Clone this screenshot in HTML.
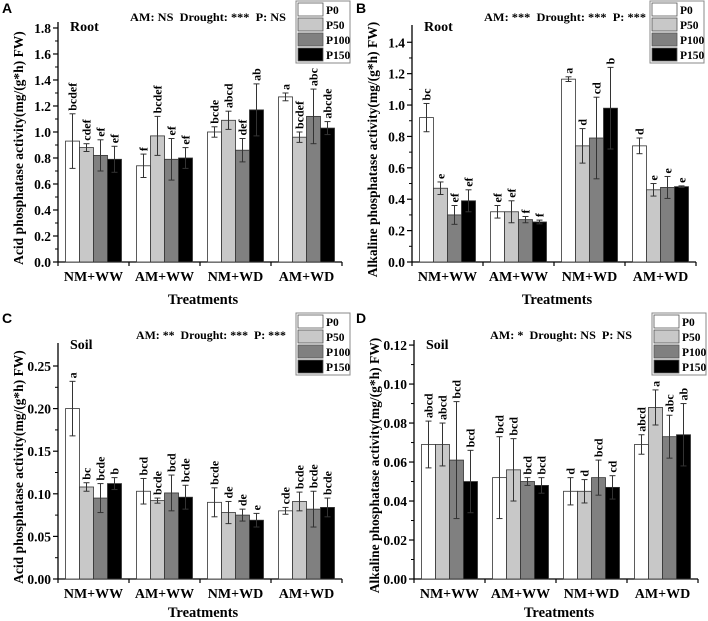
<!DOCTYPE html>
<html><head><meta charset="utf-8"><style>
body{margin:0;background:#fff}
svg{display:block;font-family:"Liberation Serif",serif;font-weight:bold}
</style></head><body>
<svg id="fig" width="708" height="621"></svg>
<script>
const categories=["NM+WW","AM+WW","NM+WD","AM+WD"];
const seriesNames=["P0","P50","P100","P150"];
const aVals=[[0.93,0.88,0.82,0.79],[0.74,0.97,0.79,0.80],[1.00,1.09,0.86,1.17],[1.27,0.96,1.12,1.03]];
const aErr=[[0.21,0.03,0.12,0.10],[0.09,0.15,0.16,0.08],[0.04,0.07,0.09,0.20],[0.03,0.04,0.21,0.05]];
const aLet=[["bcdef","cdef","ef","ef"],["f","bcdef","ef","ef"],["bcde","abcd","def","ab"],["a","bcdef","abc","abcde"]];
const bVals=[[0.92,0.47,0.30,0.39],[0.32,0.32,0.27,0.255],[1.165,0.74,0.79,0.98],[0.74,0.46,0.475,0.48]];
const bErr=[[0.09,0.04,0.06,0.07],[0.04,0.07,0.02,0.012],[0.015,0.11,0.26,0.26],[0.05,0.04,0.07,0.005]];
const bLet=[["bc","e","ef","ef"],["ef","ef","f","f"],["a","d","cd","b"],["d","e","e","e"]];
const cVals=[[0.200,0.108,0.095,0.112],[0.103,0.092,0.101,0.096],[0.090,0.078,0.075,0.069],[0.080,0.091,0.082,0.084]];
const cErr=[[0.032,0.005,0.017,0.007],[0.015,0.003,0.021,0.014],[0.017,0.013,0.007,0.008],[0.004,0.011,0.021,0.011]];
const cLet=[["a","bc","bcde","b"],["bcd","bcde","bcd","bcde"],["bcde","de","de","e"],["cde","bcde","bcde","bcde"]];
const dVals=[[0.069,0.069,0.061,0.050],[0.052,0.056,0.050,0.048],[0.045,0.045,0.052,0.047],[0.069,0.088,0.073,0.074]];
const dErr=[[0.012,0.011,0.030,0.016],[0.021,0.016,0.002,0.004],[0.007,0.006,0.009,0.006],[0.005,0.009,0.011,0.016]];
const dLet=[["abcd","abcd","bcd","bcd"],["bcd","bcd","bcd","bcd"],["d","d","bcd","cd"],["abcd","a","abc","ab"]];
const aTicks=[0,0.2,0.4,0.6,0.8,1.0,1.2,1.4,1.6,1.8];
const bTicks=[0,0.2,0.4,0.6,0.8,1.0,1.2,1.4];
const cTicks=[0,0.05,0.10,0.15,0.20,0.25];
const dTicks=[0,0.02,0.04,0.06,0.08,0.10,0.12];

const fills=["#ffffff","#c8c8c8","#808080","#000000"];
const NS="http://www.w3.org/2000/svg";
const svg=document.getElementById("fig");
function el(tag,attrs,parent,txt){const e=document.createElementNS(NS,tag);for(const k in attrs)e.setAttribute(k,attrs[k]);if(txt!==undefined)e.textContent=txt;(parent||svg).appendChild(e);return e;}

function panel(o){
  const g=el("g",{},svg);
  
  
  const x0=o.x0,y0=o.y0,W=284,gw=71;
  const yS=v=>y0-(v/o.ymax)*(y0-o.ytop);
  const xC=i=>x0+gw*(i+0.5);
  const ya=el("line",{x1:x0,y1:y0,x2:x0,y2:o.ytop,stroke:"#000","stroke-width":1.3},g);
  
  const xa=el("line",{x1:x0,y1:y0,x2:x0+W,y2:y0,stroke:"#000","stroke-width":1.3},g);
  
  o.ticks.forEach((t,i)=>{
    const y=yS(t);
    el("line",{x1:x0-5,y1:y,x2:x0,y2:y,stroke:"#000","stroke-width":1.2},g);
    if(i<o.ticks.length-1){const ym=yS((t+o.ticks[i+1])/2);el("line",{x1:x0-3,y1:ym,x2:x0,y2:ym,stroke:"#000","stroke-width":1},g);}
    const tl=el("text",{x:x0-7,y:y+5,"text-anchor":"end","font-size":13.5},g,t.toFixed(o.dec));
    
  });
  for(let i=0;i<=4;i++){el("line",{x1:x0+gw*i,y1:y0,x2:x0+gw*i,y2:y0+4,stroke:"#000","stroke-width":1.2},g);}
  categories.forEach((c,i)=>{
    const t=el("text",{x:xC(i),y:y0+19,"text-anchor":"middle","font-size":14},g,c);
    
    for(let s=0;s<4;s++){
      const v=o.vals[i][s],e=o.err[i][s];
      const bx=xC(i)-28+14*s;
      const r=el("rect",{x:bx,y:yS(v),width:14,height:y0-yS(v),fill:fills[s],stroke:"#333","stroke-width":0.8},g);
      
      
      const cx=bx+7,yt=yS(v+e),yb=yS(v-e);
      el("line",{x1:cx,y1:yt,x2:cx,y2:yb,stroke:"#333","stroke-width":1},g);
      el("line",{x1:cx-3,y1:yt,x2:cx+3,y2:yt,stroke:"#333","stroke-width":1},g);
      el("line",{x1:cx-3,y1:yb,x2:cx+3,y2:yb,stroke:"#333","stroke-width":1},g);
      const lt=el("text",{x:0,y:0,"font-size":12,transform:`translate(${cx+4},${yt-3}) rotate(-90)`},g,o.lets[i][s]);
      
    }
  });
  const xt=el("text",{x:x0+145,y:y0+o.tOff,"text-anchor":"middle","font-size":14.5},g,"Treatments");
  
  const yt=el("text",{x:0,y:0,"text-anchor":"middle","font-size":13.5,transform:`translate(${x0-35},${(y0+o.ytop)/2+6}) rotate(-90)`},g,o.ylabel);
  
  const pl=el("text",{x:o.lx,y:o.ly,"font-size":14,"font-family":"Liberation Sans, sans-serif"},g,o.letter);
  
  const st=el("text",{x:x0+12,y:o.sy+10,"font-size":14},g,o.tissue);
  
  const stat=el("text",{x:o.statX,y:o.sy,"font-size":12,textLength:o.statW,lengthAdjust:"spacingAndGlyphs"},g,o.stat.replace(/ /g,"\u00a0"));
  
  const lg=el("g",{},g);
  
  const lx=x0+238,ly=o.legY;
  el("rect",{x:lx,y:ly,width:54,height:62,fill:"#fff",stroke:"#888","stroke-width":1},lg);
  seriesNames.forEach((n,s)=>{
    const le=el("g",{},lg);
    
    el("rect",{x:lx+2,y:ly+2+15*s,width:25,height:13,fill:fills[s],stroke:"#555","stroke-width":0.8},le);
    el("text",{x:lx+30,y:ly+13+15*s,"font-size":11.5},le,n);
  });
}
panel({letter:"A",x0:58,y0:262,ytop:22,ymax:1.846,ticks:aTicks,dec:1,vals:aVals,err:aErr,lets:aLet,tOff:42,statW:156,
  ylabel:"Acid phosphatase activity(mg/(g*h) FW)",lx:2,ly:13,sy:21,statX:130,stat:"AM: NS  Drought: ***  P: NS",tissue:"Root",legY:1});
panel({letter:"B",x0:412,y0:262,ytop:25,ymax:1.51,ticks:bTicks,dec:1,vals:bVals,err:bErr,lets:bLet,tOff:42,statW:162,
  ylabel:"Alkaline phosphatase activity(mg/(g*h) FW)",lx:356,ly:13,sy:21,statX:484,stat:"AM: ***  Drought: ***  P: ***",tissue:"Root",legY:1});
panel({letter:"C",x0:58,y0:579,ytop:343,ymax:0.277,ticks:cTicks,dec:2,vals:cVals,err:cErr,lets:cLet,tOff:38,statW:150,
  ylabel:"Acid phosphatase activity(mg/(g*h) FW)",lx:2,ly:323,sy:339,statX:136,stat:"AM: **  Drought: ***  P: ***",tissue:"Soil",legY:313});
panel({letter:"D",x0:414,y0:579,ytop:340,ymax:0.1226,ticks:dTicks,dec:2,vals:dVals,err:dErr,lets:dLet,tOff:38,statW:142,
  ylabel:"Alkaline phosphatase activity(mg/(g*h) FW)",lx:356,ly:323,sy:339,statX:490,stat:"AM: *  Drought: NS  P: NS",tissue:"Soil",legY:313});
</script>
</body></html>
